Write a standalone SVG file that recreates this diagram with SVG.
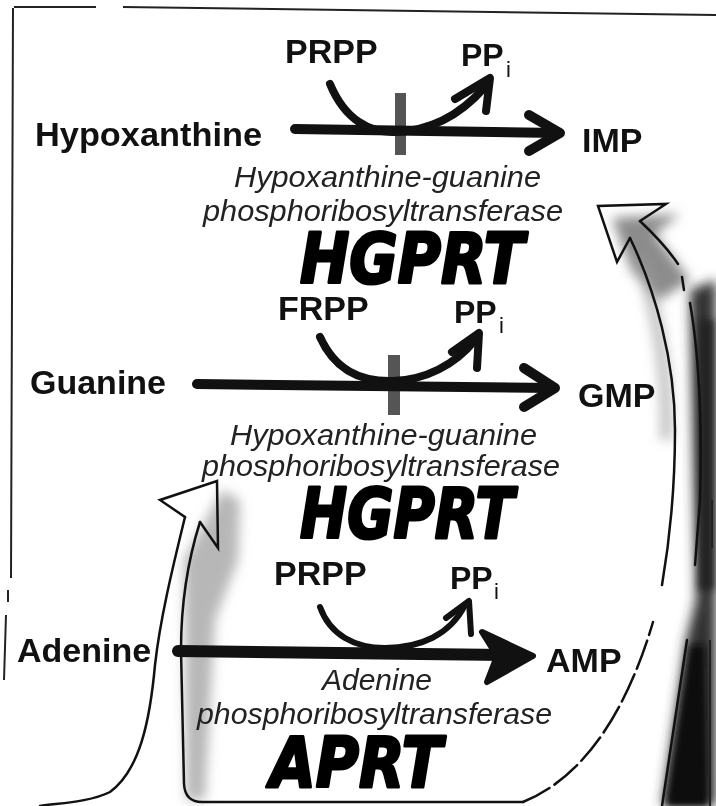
<svg xmlns="http://www.w3.org/2000/svg" width="716" height="806" viewBox="0 0 716 806">
<style>
.lb{font-family:"Liberation Sans",Arial,sans-serif;font-weight:bold;font-size:34px;fill:#111}
.pp{font-family:"Liberation Sans",Arial,sans-serif;font-weight:bold;font-size:32px;fill:#111}
.sub{font-family:"Liberation Sans",Arial,sans-serif;font-size:22px;fill:#111}
.it{font-family:"Liberation Sans",Arial,sans-serif;font-style:italic;font-size:30px;fill:#222}
.hw{font-family:"DejaVu Sans",sans-serif;font-weight:bold;font-style:italic;font-size:70px;fill:#000;stroke:#000;stroke-width:3;stroke-linejoin:round}
.thick{fill:none;stroke:#111;stroke-linecap:round;stroke-linejoin:round}
.ol{fill:none;stroke:#111;stroke-width:2.5;stroke-linecap:round;stroke-linejoin:miter}
.frame{fill:none;stroke:#222;stroke-width:2}
.bar{fill:#555}
</style>
<defs>
<filter id="blur" x="-20%" y="-20%" width="140%" height="140%"><feGaussianBlur stdDeviation="6"/></filter>
<filter id="blur2" x="-20%" y="-20%" width="140%" height="140%"><feGaussianBlur stdDeviation="3"/></filter>
</defs>
<rect width="716" height="806" fill="#fff"/>

<!-- scan shading -->
<g id="shading" filter="url(#blur)">
<polygon points="612,218 680,214 655,234 690,280 660,300 632,272" fill="#666" opacity="0.75"/>
<path d="M640,260 C660,320 668,380 666,440" fill="none" stroke="#999" stroke-width="12" opacity="0.6"/>
<polygon points="690,290 716,280 716,806 662,806 686,640 696,600" fill="#333"/>
<polygon points="222,490 240,500 238,560 215,620 205,800 186,800 184,560" fill="#999" opacity="0.7"/>
</g>
<g id="shading-dark" filter="url(#blur2)">
<polygon points="690,645 705,645 708,806 666,806" fill="#111"/>
<polygon points="699,320 714,320 714,590 699,590" fill="#222" opacity="0.85"/>
</g>

<!-- frame -->
<g id="frame">
<path class="frame" d="M14,7 L96,7 M123,7 L716,15 M13,8 L11,578 M8,590 L8,602 M6,615 L4,680"/>
<path class="frame" d="M710,640 L710,806 M712,500 L712,548"/>
</g>

<!-- big hollow arrows -->
<g id="hollow-arrows">
<path class="ol" d="M185,517 L160,500 L217,481 L218,548 L200,522"/>
<path class="ol" d="M185,517 C172,570 160,620 155,665 C150,720 140,770 110,792 C90,802 60,803 40,806"/>
<path class="ol" d="M200,522 C188,560 181,600 181,650 L184,784 Q185,802 202,802 L523,802"/>
<path class="ol" stroke-dasharray="30 6" d="M523,802 C590,775 630,700 653,622"/>
<path class="ol" d="M630,238 L617,262 L598,206 L666,204 L640,221"/>
<path class="ol" d="M630,238 C655,290 675,360 675,430 C675,500 668,550 662,585"/>
<path class="ol" d="M640,221 C658,238 670,252 678,264 M682,277 L684,290 M690,303 C700,360 702,430 700,500 L695,565 M687,640 L662,806"/>
</g>

<!-- reaction connectors -->
<g id="connectors">
<rect class="bar" x="395" y="93" width="11" height="62"/>
<path class="thick" stroke-width="10" d="M295,129 L558,133"/>
<path class="thick" stroke-width="10" d="M529,115 L560,133 L529,151"/>
<path class="thick" stroke-width="8" d="M330,84 C345,120 370,133 395,132 C430,131 460,115 484,88"/>
<path class="thick" stroke-width="8" d="M455,99 L490,78 L486,111"/>

<rect class="bar" x="388" y="355" width="12" height="60"/>
<path class="thick" stroke-width="10" d="M197,384 L553,388"/>
<path class="thick" stroke-width="10" d="M524,368 L555,388 L524,407"/>
<path class="thick" stroke-width="8" d="M320,337 C335,370 360,382 393,381 C425,380 455,365 475,340"/>
<path class="thick" stroke-width="8" d="M452,352 L479,333 L477,368"/>

<path class="thick" stroke-width="12" d="M178,651 L505,655"/>
<polygon points="482,632 533,656 487,682 497,656" fill="#111" stroke="#111" stroke-width="6" stroke-linejoin="round"/>
<path class="thick" stroke-width="6" d="M320,607 C330,635 355,648 385,648 C420,648 450,635 465,605"/>
<path class="thick" stroke-width="6" d="M446,618 L469,601 L471,634"/>
</g>

<!-- nodes -->
<g id="hypoxanthine"><text class="lb" x="35" y="146" textLength="227" lengthAdjust="spacingAndGlyphs">Hypoxanthine</text></g>
<g id="imp"><text class="lb" x="582" y="152">IMP</text></g>
<g id="prpp1"><text class="lb" x="285" y="63">PRPP</text></g>
<g id="ppi1"><text class="pp" x="461" y="66">PP</text><text class="sub" x="506" y="77">i</text></g>
<g id="enzyme1">
<text class="it" x="234" y="187" textLength="307" lengthAdjust="spacingAndGlyphs">Hypoxanthine-guanine</text>
<text class="it" x="203" y="221" textLength="360" lengthAdjust="spacingAndGlyphs">phosphoribosyltransferase</text>
<text class="hw" x="300" y="283" textLength="224" lengthAdjust="spacingAndGlyphs">HGPRT</text>
</g>

<g id="guanine"><text class="lb" x="30" y="394">Guanine</text></g>
<g id="gmp"><text class="lb" x="578" y="407">GMP</text></g>
<g id="prpp2"><text class="lb" x="278" y="320">FRPP</text></g>
<g id="ppi2"><text class="pp" x="454" y="323">PP</text><text class="sub" x="499" y="333">i</text></g>
<g id="enzyme2">
<text class="it" x="230" y="445" textLength="307" lengthAdjust="spacingAndGlyphs">Hypoxanthine-guanine</text>
<text class="it" x="202" y="476" textLength="358" lengthAdjust="spacingAndGlyphs">phosphoribosyltransferase</text>
<text class="hw" x="300" y="538" textLength="214" lengthAdjust="spacingAndGlyphs">HGPRT</text>
</g>

<g id="adenine"><text class="lb" x="17" y="662">Adenine</text></g>
<g id="amp"><text class="lb" x="546" y="672">AMP</text></g>
<g id="prpp3"><text class="lb" x="274" y="585">PRPP</text></g>
<g id="ppi3"><text class="pp" x="450" y="589">PP</text><text class="sub" x="494" y="599">i</text></g>
<g id="enzyme3">
<text class="it" x="322" y="690" textLength="110" lengthAdjust="spacingAndGlyphs">Adenine</text>
<text class="it" x="197" y="724" textLength="355" lengthAdjust="spacingAndGlyphs">phosphoribosyltransferase</text>
<text class="hw" x="270" y="787" textLength="172" lengthAdjust="spacingAndGlyphs">APRT</text>
</g>
</svg>
